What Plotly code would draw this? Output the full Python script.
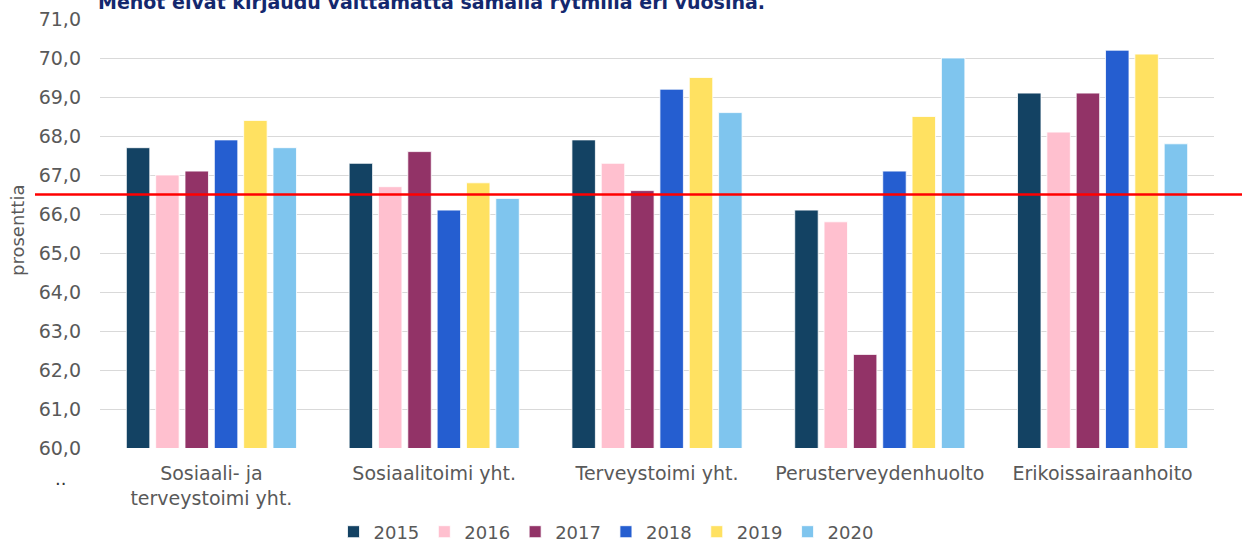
import plotly.graph_objects as go

categories = ["Sosiaali- ja<br>terveystoimi yht.", "Sosiaalitoimi yht.", "Terveystoimi yht.",
              "Perusterveydenhuolto", "Erikoissairaanhoito"]
years = ["2015", "2016", "2017", "2018", "2019", "2020"]
v2015 = [67.7, 67.3, 67.9, 66.1, 69.1]
v2016 = [67.0, 66.7, 67.3, 65.8, 68.1]
v2017 = [67.1, 67.6, 66.6, 62.4, 69.1]
v2018 = [67.9, 66.1, 69.2, 67.1, 70.2]
v2019 = [68.4, 66.8, 69.5, 68.5, 70.1]
v2020 = [67.7, 66.4, 68.6, 70.0, 67.8]
series = [v2015, v2016, v2017, v2018, v2019, v2020]
colors = ["#134263", "#FFC0CF", "#923367", "#255ED0", "#FFE161", "#7FC5EE"]
ref_value = 66.5
y_min, y_max = 60, 71
title_text = "Menot eivät kirjaudu välttämättä samalla rytmillä eri vuosina."
y_title = "prosenttia"

W, H = 1242, 545
ML, MR, MT, MB = 100, 28, 19, 97
PW = W - ML - MR
PH = H - MT - MB

def px_x(p):
    return (p - ML) / PW

def px_y(p):
    return (H - MB - p) / PH

font = "DejaVu Sans"
grey = "#595959"

fig = go.Figure()
for yr, vals, col in zip(years, series, colors):
    fig.add_trace(go.Bar(
        name=yr, x=categories, y=vals,
        marker=dict(color=col, line=dict(color="rgba(255,255,255,0.8)", width=1)),
    ))

ref_paper = (ref_value - y_min) / (y_max - y_min)
fig.add_shape(type="line", xref="paper", yref="paper",
              x0=px_x(35), x1=px_x(W), y0=ref_paper, y1=ref_paper,
              line=dict(color="#FF0000", width=2.5), layer="above")

fig.add_annotation(text="<b>" + title_text + "</b>", xref="paper", yref="paper",
                   x=px_x(96), y=px_y(2), xanchor="left", yanchor="middle",
                   showarrow=False, font=dict(family=font, size=19, color="#14286E"))
fig.add_annotation(text=y_title, xref="paper", yref="paper",
                   x=px_x(17), y=px_y(231), xanchor="center", yanchor="middle",
                   textangle=-90, showarrow=False, font=dict(family=font, size=18, color=grey))
fig.add_annotation(text="..", xref="paper", yref="paper",
                   x=px_x(60), y=px_y(478), xanchor="center", yanchor="middle",
                   showarrow=False, font=dict(family=font, size=18, color="#333333"))

fig.update_layout(
    width=W, height=H,
    margin=dict(l=ML, r=MR, t=MT, b=MB, pad=0, autoexpand=False),
    paper_bgcolor="white", plot_bgcolor="white",
    separators=", ",
    barmode="group", bargap=0.21, bargroupgap=0.2,
    font=dict(family=font, size=18, color=grey),
    showlegend=True,
    legend=dict(orientation="h", x=px_x(606), xanchor="center", y=px_y(532), yanchor="middle",
                font=dict(family=font, size=18, color=grey), traceorder="normal",
                itemwidth=30, bgcolor="rgba(0,0,0,0)"),
    xaxis=dict(showgrid=False, showline=False, ticks="", tickfont=dict(family=font, size=19, color=grey),
               ticklabelstandoff=12),
    yaxis=dict(range=[y_min, y_max], dtick=1, tickformat=".1f", showgrid=True,
               gridcolor="#D9D9D9", gridwidth=1, zeroline=False, showline=False,
               ticks="", tickfont=dict(family=font, size=19, color=grey), ticklabelstandoff=18),
)

fig.write_html("out.html", config={"displayModeBar": False},
               post_script="document.body.style.margin='0';document.body.style.overflow='hidden';")
